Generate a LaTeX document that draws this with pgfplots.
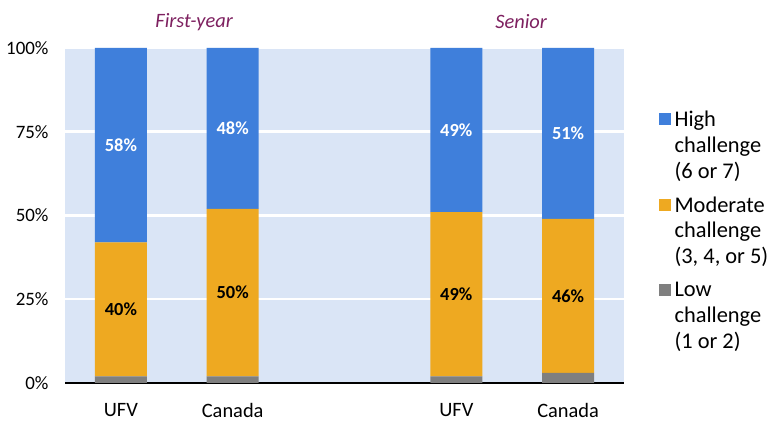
\documentclass[border=0pt]{standalone}
\usepackage{fontspec}
\setmainfont{Carlito}
\usepackage{pgfplots}
\pgfplotsset{compat=1.18}
\definecolor{hiblue}{HTML}{3F7FDB}
\definecolor{modorange}{HTML}{EEA921}
\definecolor{lowgray}{HTML}{7F7F7F}
\definecolor{plotbg}{HTML}{DAE5F6}
\definecolor{grouptitle}{HTML}{7E2160}

\pgfplotsset{
  chartframe/.style={
    at={(65bp,38bp)}, anchor=south west,
    scale only axis, width=559bp, height=335bp,
    xmin=-0.5, xmax=4.5, ymin=0, ymax=100,
  },
}

\begin{document}
\begin{tikzpicture}
\path[use as bounding box] (0,0) rectangle (773bp,421bp);
\begin{axis}[
  chartframe,
  ybar stacked, bar width=52bp,
  xtick={0,1,3,4}, xticklabels={UFV,Canada,UFV,Canada},
  ytick={0,25,50,75,100},
  yticklabel={\pgfmathprintnumber{\tick}\%},
  /pgf/number format/assume math mode=true,
  ymajorgrids, grid style={white, line width=2.5bp},
  axis background/.style={fill=plotbg},
  axis x line*=bottom, axis y line*=left,
  x axis line style={black, line width=2bp},
  y axis line style={draw=none},
  major tick length=0pt,
  yticklabel style={font=\fontsize{19}{23}\selectfont, xshift=-13bp},
  xticklabel style={font=\fontsize{20.5}{24}\selectfont, inner sep=1bp, yshift=-19bp},
  clip=false,
  reverse legend,
  legend cell align=left,
  legend image code/.code={\fill[#1] (0bp,20bp) rectangle (12bp,32bp);},
  legend style={draw=none, fill=none, at={(1.057,0.83)}, anchor=north west,
    font=\fontsize{22.5}{26}\selectfont, row sep=10bp,
    nodes={align=left, inner sep=3.5bp}},
]
\addplot[fill=lowgray, draw=none] coordinates {(0,2) (1,2) (3,2) (4,3)};
\addplot[fill=modorange, draw=none] coordinates {(0,40) (1,50) (3,49) (4,46)};
\addplot[fill=hiblue, draw=none] coordinates {(0,58) (1,48) (3,49) (4,51)};
\legend{{Low\\challenge\\(1 or 2)}, {Moderate\\challenge\\(3, 4, or 5)}, {High\\challenge\\(6 or 7)}}
\node[font=\itshape\fontsize{20.5}{25}\selectfont, text=grouptitle] at (axis description cs:0.231,1.078) {First-year};
\node[font=\itshape\fontsize{20.5}{25}\selectfont, text=grouptitle] at (axis description cs:0.816,1.078) {Senior};
\end{axis}
% labels: centre of each segment (low + value/2, low + moderate + high/2)
\begin{axis}[chartframe, hide axis, clip=false]
\addplot[draw=none, mark=none, nodes near coords, point meta=explicit symbolic,
  nodes near coords align=center,
  every node near coord/.append style={anchor=center, text=black, font=\bfseries\fontsize{18.5}{22}\selectfont}]
  coordinates {(0,22)[40\%] (1,27)[50\%] (3,26.5)[49\%] (4,26)[46\%]};
\addplot[draw=none, mark=none, nodes near coords, point meta=explicit symbolic,
  nodes near coords align=center,
  every node near coord/.append style={anchor=center, text=white, font=\bfseries\fontsize{18.5}{22}\selectfont}]
  coordinates {(0,71)[58\%] (1,76)[48\%] (3,75.5)[49\%] (4,74.5)[51\%]};
\end{axis}
\end{tikzpicture}
\end{document}
